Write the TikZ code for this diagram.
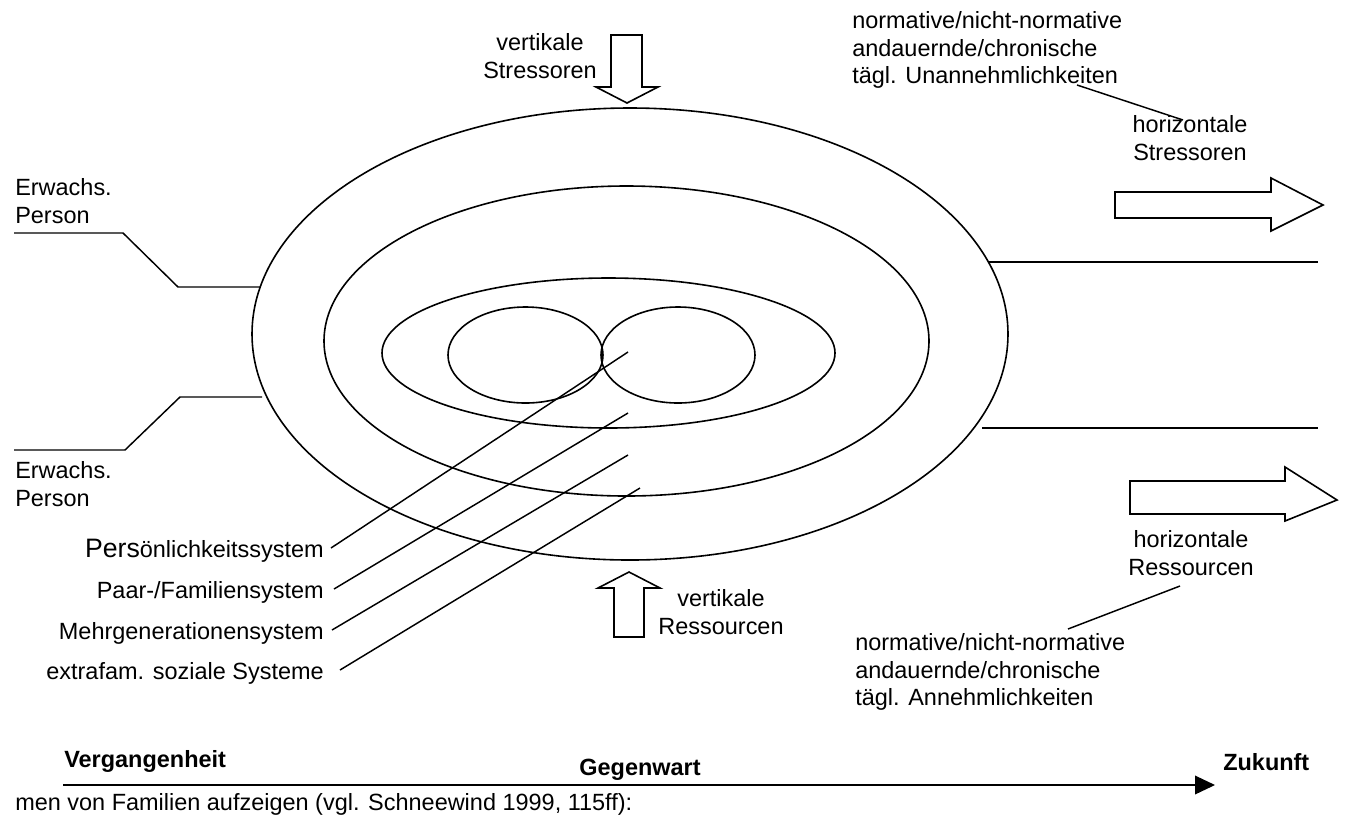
\documentclass[tikz,border=0pt]{standalone}
\usepackage{fontspec}
\setmainfont{Liberation Sans}
\usetikzlibrary{shapes.geometric,arrows.meta}
\begin{document}
\begin{tikzpicture}[x=0.75pt,y=-0.75pt,
  txt/.style={font=\fontsize{17.6}{20.8}\selectfont, inner sep=0pt},
  bld/.style={font=\fontsize{17.6}{21}\selectfont\bfseries, inner sep=0pt},
  ell/.style={draw, ellipse, inner sep=0pt, line width=1.2pt},
  ln/.style={line width=1.1pt},
  bigarrow/.style={draw, line width=1.2pt, line join=miter, fill=white}]
\useasboundingbox (0,0) rectangle (1346,819);

% ellipses
\node[ell, minimum width=567pt, minimum height=339pt] (outer) at (630,334) {};
\node[ell, minimum width=453.75pt, minimum height=232.5pt] (middle) at (626.5,341) {};
\node[ell, minimum width=339.75pt, minimum height=112.5pt] (inner) at (608.5,353) {};
\node[ell, minimum width=116.25pt, minimum height=72pt] (pl) at (525.5,355) {};
\node[ell, minimum width=115.5pt, minimum height=72pt] (pr) at (678,355) {};

% adult person lines
\node[txt, anchor=north west, align=left] (ea) at (15,178) {Erwachs.\\Person};
\node[txt, anchor=north west, align=left] (eb) at (15,461) {Erwachs.\\Person};
\coordinate (a0) at (14,233);
\coordinate (a1) at (123,233);
\coordinate (a2) at (178,287);
\coordinate (a3) at (260,287);
\coordinate (b0) at (14,450);
\coordinate (b1) at (125,450);
\coordinate (b2) at (180,397);
\coordinate (b3) at (262,397);
\draw[ln] (a0) -- (a1) -- (a2) -- (a3);
\draw[ln] (b0) -- (b1) -- (b2) -- (b3);

% right horizontal lines
\coordinate (r1a) at (988,262);
\coordinate (r1b) at (1318,262);
\coordinate (r2a) at (982,428);
\coordinate (r2b) at (1318,428);
\draw[ln] (r1a) -- (r1b);
\draw[ln] (r2a) -- (r2b);

% vertical stressors arrow (down)
\draw[bigarrow] (611,35) -- (642,35) -- (642,87) -- (658,87) -- (627,103) -- (596,87) -- (611,87) -- cycle;
\node[txt, anchor=north, align=center] (vs) at (540,33) {vertikale\\Stressoren};

% vertical resources arrow (up)
\draw[bigarrow] (614,637) -- (644,637) -- (644,588) -- (660,588) -- (629,572) -- (598,588) -- (614,588) -- cycle;
\node[txt, anchor=north, align=center] (vr) at (721,589) {vertikale\\Ressourcen};

% horizontal arrows
\draw[bigarrow] (1115,192) -- (1271,192) -- (1271,178) -- (1323,205) -- (1271,231) -- (1271,218) -- (1115,218) -- cycle;
\draw[bigarrow] (1130,481) -- (1285,481) -- (1285,467) -- (1337,500) -- (1285,521) -- (1285,514) -- (1130,514) -- cycle;
\node[txt, anchor=north, align=center] (hs) at (1190,115) {horizontale\\Stressoren};
\node[txt, anchor=north, align=center] (hr) at (1191,530) {horizontale\\Ressourcen};

% top right / bottom right texts
\node[txt, anchor=north west, align=left] (tr) at (852,11) {normative/nicht-normative\\andauernde/chronische\\tägl. Unannehmlichkeiten};
\node[txt, anchor=north west, align=left] (br) at (855,633) {normative/nicht-normative\\andauernde/chronische\\tägl. Annehmlichkeiten};
\coordinate (t1) at (1077,85);
\coordinate (t2) at (1183,120);
\draw[ln] (t1) -- (t2);
\coordinate (u1) at (1068,629);
\coordinate (u2) at (1180,586);
\draw[ln] (u1) -- (u2);

% system labels
\node[txt, anchor=base east] (l1) at (324,557) {{\fontsize{20}{21}\selectfont Pers}önlichkeitssystem};
\node[txt, anchor=base east] (l2) at (324,598) {Paar-/Familiensystem};
\node[txt, anchor=base east] (l3) at (324,639) {Mehrgenerationensystem};
\node[txt, anchor=base east] (l4) at (324,679) {extrafam. soziale Systeme};
\coordinate (s1) at (331,548);
\coordinate (s2) at (334,589);
\coordinate (s3) at (332,630);
\coordinate (s4) at (340,670);
\coordinate (e1) at (628,352);
\coordinate (e2) at (628,413);
\coordinate (e3) at (628,455);
\coordinate (e4) at (640,488);
\draw[ln] (s1) -- (e1);
\draw[ln] (s2) -- (e2);
\draw[ln] (s3) -- (e3);
\draw[ln] (s4) -- (e4);

% timeline
\node[bld, anchor=base west] (past) at (64,767) {Vergangenheit};
\node[bld, anchor=base] (now) at (640,775) {Gegenwart};
\node[bld, anchor=base west] (fut) at (1223,770) {Zukunft};
\coordinate (tl0) at (63,785);
\coordinate (tl1) at (1215,785);
\draw[ln, -{Triangle[length=15pt,width=14pt]}] (tl0) -- (tl1);
\node[txt, anchor=base west] (cap) at (15,810) {men von Familien aufzeigen (vgl. Schneewind 1999, 115ff):};
\end{tikzpicture}
\end{document}
